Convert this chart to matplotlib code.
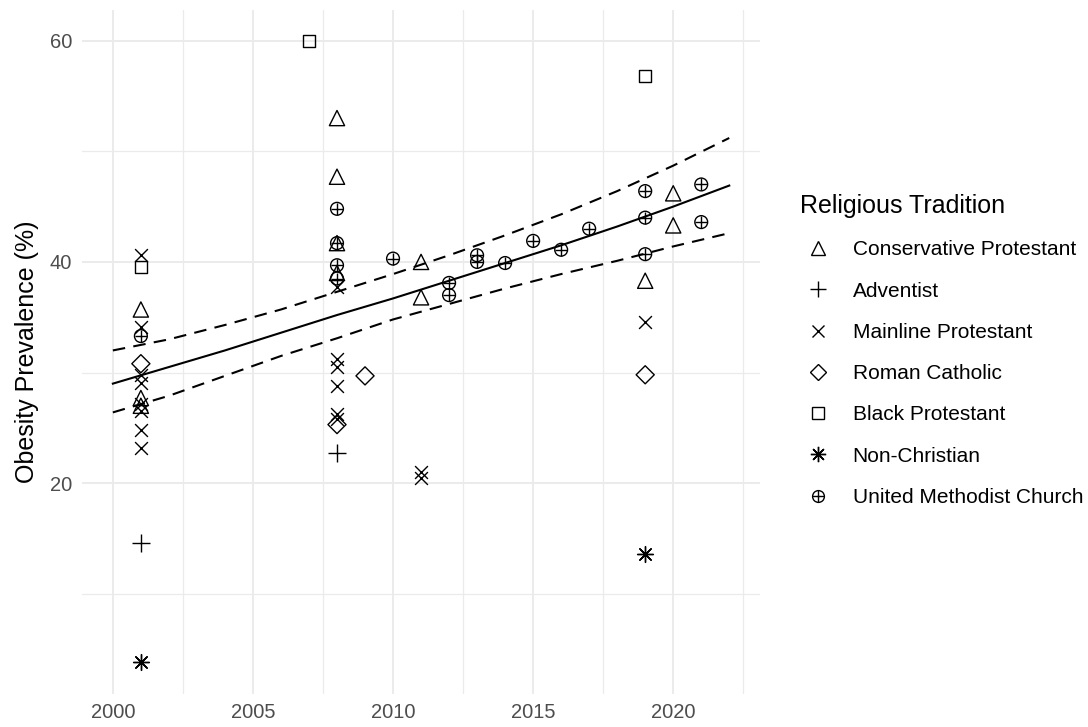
import numpy as np
import matplotlib.pyplot as plt
from matplotlib.lines import Line2D
from matplotlib.legend_handler import HandlerTuple

plt.rcParams['font.family'] = ['Liberation Sans', 'DejaVu Sans']

# survey results by religious tradition (year, obesity %)
cons_years = [2001, 2001, 2001, 2008, 2008, 2008, 2008, 2011, 2011, 2019, 2020, 2020]
cons_vals = [35.7, 27.7, 27.0, 53.0, 47.7, 41.7, 39.0, 40.0, 36.8, 38.3, 46.2, 43.3]

adv_years = [2001, 2008]
adv_vals = [14.6, 22.7]

main_years = [2001, 2001, 2001, 2001, 2001, 2001, 2001, 2001,
              2008, 2008, 2008, 2008, 2008, 2008, 2011, 2011, 2019]
main_vals = [40.6, 34.1, 29.8, 29.1, 27.2, 26.5, 24.8, 23.2,
             37.7, 31.2, 30.5, 28.8, 26.3, 25.8, 21.0, 20.5, 34.6]

cath_years = [2001, 2008, 2009, 2019]
cath_vals = [30.8, 25.3, 29.7, 29.8]

black_years = [2001, 2007, 2019]
black_vals = [39.5, 60.0, 56.8]

nonchr_years = [2001, 2019]
nonchr_vals = [3.8, 13.6]

umc_years = [2001, 2008, 2008, 2008, 2008, 2010, 2012, 2012, 2013, 2013,
             2014, 2015, 2016, 2017, 2019, 2019, 2019, 2021, 2021]
umc_vals = [33.3, 44.8, 41.7, 39.7, 38.5, 40.3, 38.1, 37.0, 40.6, 40.0,
            39.9, 41.9, 41.1, 43.0, 46.4, 44.0, 40.7, 47.0, 43.6]

# fitted trend with 95% interval
fit_years = [2000, 2002, 2004, 2006, 2008, 2010, 2012, 2014, 2016, 2018, 2020, 2022]
fit_mid = [29.0, 30.5, 32.0, 33.6, 35.2, 36.7, 38.3, 39.9, 41.5, 43.2, 45.0, 46.9]
fit_hi = [32.0, 33.0, 34.3, 35.7, 37.3, 38.9, 40.6, 42.4, 44.3, 46.4, 48.7, 51.2]
fit_lo = [26.4, 27.9, 29.7, 31.5, 33.1, 34.8, 36.2, 37.6, 38.9, 40.1, 41.4, 42.6]

fig = plt.figure(figsize=(10.88, 7.27), dpi=100)
ax = fig.add_axes([0.0754, 0.046, 0.6232, 0.9409])

grid_c = '#ebebeb'
for v in [2000, 2005, 2010, 2015, 2020]:
    ax.axvline(v, color=grid_c, lw=1.4, zorder=0)
for v in [2002.5, 2007.5, 2012.5, 2017.5, 2022.5]:
    ax.axvline(v, color=grid_c, lw=0.9, zorder=0)
for v in [20, 40, 60]:
    ax.axhline(v, color=grid_c, lw=1.4, zorder=0)
for v in [10, 30, 50]:
    ax.axhline(v, color=grid_c, lw=0.9, zorder=0)

ax.plot(fit_years, fit_mid, color='black', lw=1.5, zorder=2)
ax.plot(fit_years, fit_hi, color='black', lw=1.5, ls=(0, (6, 4)), zorder=2)
ax.plot(fit_years, fit_lo, color='black', lw=1.5, ls=(0, (6, 4)), zorder=2)

mk = dict(facecolors='none', edgecolors='black', linewidths=1.0, zorder=3)
ax.scatter(cons_years, cons_vals, marker='^', s=120, **mk)
ax.scatter(adv_years, adv_vals, marker='+', s=170, color='black', linewidths=1.0, zorder=3)
ax.scatter(main_years, main_vals, marker='x', s=85, color='black', linewidths=1.0, zorder=3)
ax.scatter(cath_years, cath_vals, marker='D', s=85, **mk)
ax.scatter(black_years, black_vals, marker='s', s=75, **mk)
ax.scatter(nonchr_years, nonchr_vals, marker=(8, 2, 0), s=130, color='black', linewidths=1.0, zorder=3)
ax.scatter(umc_years, umc_vals, marker='o', s=85, **mk)
ax.scatter(umc_years, umc_vals, marker='+', s=85, color='black', linewidths=1.0, zorder=3)

ax.set_xlim(1998.9, 2023.1)
ax.set_ylim(0.99, 62.81)
ax.set_xticks([2000, 2005, 2010, 2015, 2020])
ax.set_yticks([20, 40, 60])
ax.tick_params(length=0, labelsize=14.5, labelcolor='#4d4d4d', pad=7)
for s in ax.spines.values():
    s.set_visible(False)
ax.set_ylabel('Obesity Prevalence (%)', fontsize=18, labelpad=8)

lk = dict(color='black', linestyle='none', markerfacecolor='none', markeredgewidth=1.0)
handles = [
    Line2D([], [], marker='^', markersize=10, **lk),
    Line2D([], [], marker='+', markersize=12, **lk),
    Line2D([], [], marker='x', markersize=8.5, **lk),
    Line2D([], [], marker='D', markersize=8, **lk),
    Line2D([], [], marker='s', markersize=8, **lk),
    Line2D([], [], marker=(8, 2, 0), markersize=11, **lk),
    (Line2D([], [], marker='o', markersize=8.5, **lk),
     Line2D([], [], marker='+', markersize=8.5, **lk)),
]
labels = ['Conservative Protestant', 'Adventist', 'Mainline Protestant',
          'Roman Catholic', 'Black Protestant', 'Non-Christian',
          'United Methodist Church']
leg = fig.legend(handles, labels, loc='upper left', bbox_to_anchor=(0.718, 0.759),
                 frameon=False, fontsize=15, title='Religious Tradition',
                 title_fontsize=18, labelspacing=1.07, handletextpad=0.75,
                 handlelength=1.78, handler_map={tuple: HandlerTuple(ndivide=1, pad=0)})
leg._legend_box.align = 'left'

fig.savefig('out.png', dpi=100)
